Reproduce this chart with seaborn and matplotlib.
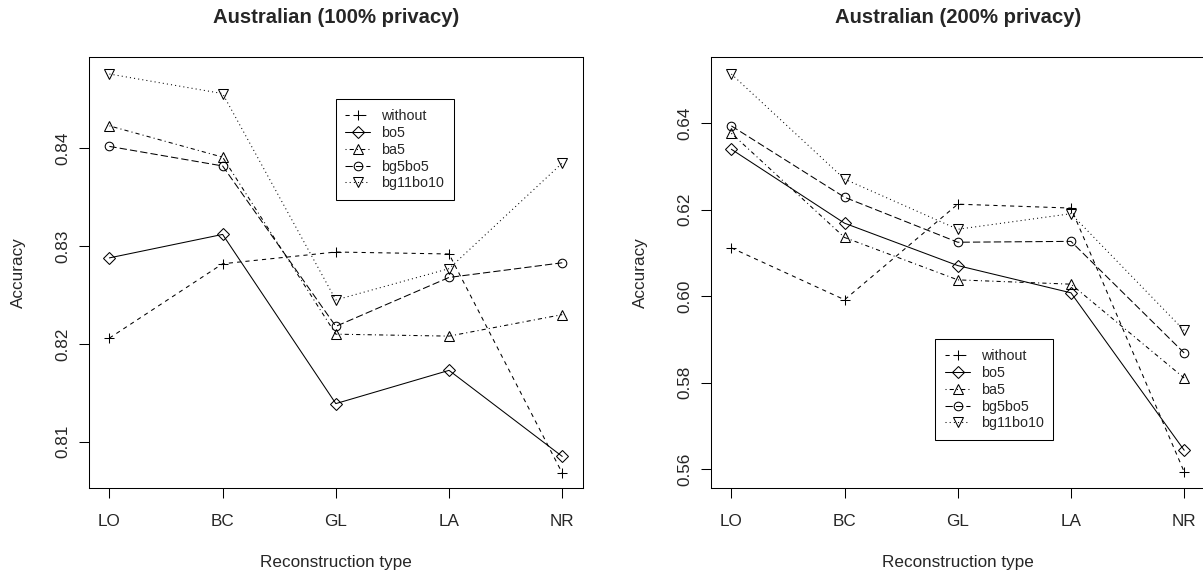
import matplotlib
matplotlib.use("Agg")
import pandas as pd
import matplotlib.pyplot as plt
import seaborn as sns

recon_types = ["LO", "BC", "GL", "LA", "NR"]
methods = ["without", "bo5", "ba5", "bg5bo5", "bg11bo10"]

# Australian, 100% privacy
without_100 = [0.8206, 0.8282, 0.8294, 0.8292, 0.8068]
bo5_100 = [0.8288, 0.8312, 0.8139, 0.8173, 0.8085]
ba5_100 = [0.8423, 0.8391, 0.8210, 0.8208, 0.8230]
bg5bo5_100 = [0.8402, 0.8382, 0.8218, 0.8268, 0.8283]
bg11bo10_100 = [0.8476, 0.8456, 0.8245, 0.8277, 0.8385]

# Australian, 200% privacy
without_200 = [0.6112, 0.5992, 0.6213, 0.6204, 0.5594]
bo5_200 = [0.6340, 0.6169, 0.6071, 0.6008, 0.5644]
ba5_200 = [0.6377, 0.6136, 0.6038, 0.6028, 0.5811]
bg5bo5_200 = [0.6394, 0.6229, 0.6125, 0.6127, 0.5869]
bg11bo10_200 = [0.6514, 0.6271, 0.6155, 0.6191, 0.5921]

yticks_100 = [0.81, 0.82, 0.83, 0.84]
yticks_200 = [0.56, 0.58, 0.60, 0.62, 0.64]

# R-like point symbols and line types
markers = {"without": "+", "bo5": "D", "ba5": "^", "bg5bo5": "o", "bg11bo10": "v"}
msizes = {"without": 7.2, "bo5": 6.0, "ba5": 7.2, "bg5bo5": 6.2, "bg11bo10": 7.2}
lstyles = {"without": (0, (4, 4)), "bo5": "-", "ba5": (0, (1, 3, 4, 3)),
           "bg5bo5": (0, (7, 3)), "bg11bo10": (0, (1, 3))}


def long_form(series):
    rows = []
    for m, vals in zip(methods, series):
        for r, v in zip(recon_types, vals):
            rows.append({"method": m, "recon": r, "acc": v})
    return pd.DataFrame(rows)


df_100 = long_form([without_100, bo5_100, ba5_100, bg5bo5_100, bg11bo10_100])
df_200 = long_form([without_200, bo5_200, ba5_200, bg5bo5_200, bg11bo10_200])

sns.set_style("ticks")
plt.rcParams["font.family"] = ["Liberation Sans", "DejaVu Sans"]

fig = plt.figure(figsize=(12.03, 5.74), dpi=100)
ax1 = fig.add_axes([0.074, 0.1493, 0.4103, 0.7519])
ax2 = fig.add_axes([0.591, 0.1493, 0.4103, 0.7519])

panels = [
    (ax1, df_100, "Australian (100% privacy)", yticks_100, (0.80524, 0.84937), (0.4998, 0.9013)),
    (ax2, df_200, "Australian (200% privacy)", yticks_200, (0.5556, 0.6554), (0.4544, 0.3452)),
]

for ax, df, title, yt, ylim, leg_pos in panels:
    for m in methods:
        sub = df[df["method"] == m]
        sns.lineplot(data=sub, x="recon", y="acc", ax=ax, color="black",
                     marker=markers[m], markersize=msizes[m],
                     markerfacecolor="none", markeredgecolor="black",
                     markeredgewidth=0.75, linewidth=0.75,
                     linestyle=lstyles[m], label=m, errorbar=None, sort=False)
    ax.set_xlim(-0.18, 4.18)
    ax.set_ylim(*ylim)
    ax.set_yticks(yt)
    ax.set_yticklabels([f"{t:.2f}" for t in yt])
    for lab in ax.get_yticklabels():
        lab.set_rotation(90)
        lab.set_va("center")
    ax.tick_params(axis="both", length=7.2, width=0.75, labelsize=12.3, color="black")
    ax.tick_params(axis="x", pad=11)
    ax.tick_params(axis="y", pad=6)
    for sp in ax.spines.values():
        sp.set_visible(True)
        sp.set_color("black")
        sp.set_linewidth(0.75)
    ax.set_title(title, fontsize=14.6, fontweight="bold", pad=24)
    ax.set_xlabel("Reconstruction type", fontsize=12.3)
    ax.set_ylabel("Accuracy", fontsize=12.3)
    ax.xaxis.set_label_coords(0.5, -0.155)
    ax.yaxis.set_label_coords(-0.128, 0.5)

    handles, labels = ax.get_legend_handles_labels()
    leg = ax.legend(handles, labels, loc="upper left", bbox_to_anchor=leg_pos,
                    borderaxespad=0, fontsize=10.3, frameon=True, fancybox=False,
                    framealpha=1, edgecolor="black", handlelength=1.75,
                    handletextpad=0.75, labelspacing=0.2, borderpad=0.68)
    leg.get_frame().set_linewidth(0.75)

fig.savefig("out.png", dpi=100)
